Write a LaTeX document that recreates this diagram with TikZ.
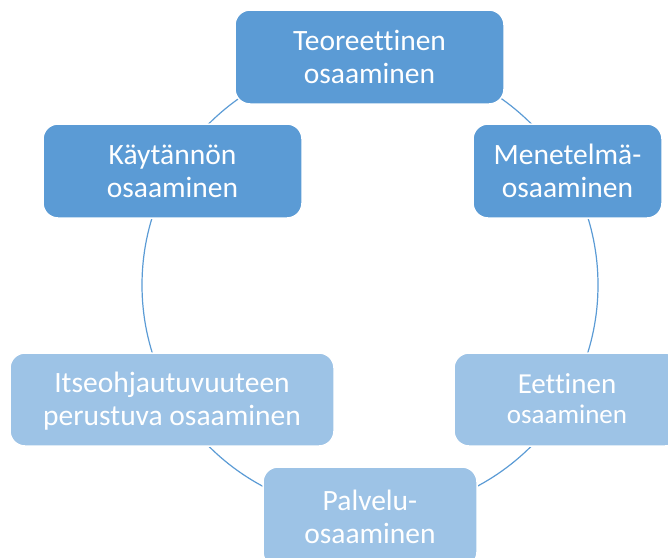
\documentclass[tikz,border=0pt]{standalone}
\usepackage{fontspec}
\setmainfont{Carlito}[Ligatures=NoCommon]
\definecolor{darkbox}{HTML}{5B9BD5}
\definecolor{lightbox}{HTML}{9DC3E6}
\definecolor{ring}{HTML}{5B9BD5}
\begin{document}
\begin{tikzpicture}[x=1pt,y=-1pt,
  box/.style={rounded corners=15pt, draw=white, line width=1.5pt, text=white,
    align=center, inner sep=0pt, font=\fontsize{29.5}{33}\selectfont,
    text height=52pt, text depth=0pt},
  darkstep/.style={box, fill=darkbox},
  lightstep/.style={box, fill=lightbox}]
\useasboundingbox (0,0) rectangle (668,557);
\coordinate (c) at (370,285);
\draw[ring, line width=1.2pt] (c) circle[radius=228pt];
\node[darkstep, minimum width=269pt, minimum height=94pt] (teo) at (369.5,57) {Teoreettinen\\osaaminen};
\node[darkstep, minimum width=259pt, minimum height=94pt] (kay) at (172.5,171) {Käytännön\\osaaminen};
\node[darkstep, minimum width=189pt, minimum height=94pt] (men) at (567.5,171) {Menetelmä-\\osaaminen};
\node[lightstep, minimum width=324pt, minimum height=93pt] (its) at (172,399.5) {Itseohjautuvuuteen\\perustuva osaaminen};
\node[lightstep, minimum width=226pt, minimum height=93pt, font=\fontsize{27}{30}\selectfont, text height=48pt] (eet) at (567,399.5) {{\fontsize{29}{30}\selectfont Eettinen}\\osaaminen};
\node[lightstep, minimum width=214pt, minimum height=100pt] (pal) at (370,517) {Palvelu-\\osaaminen};
\end{tikzpicture}
\end{document}
